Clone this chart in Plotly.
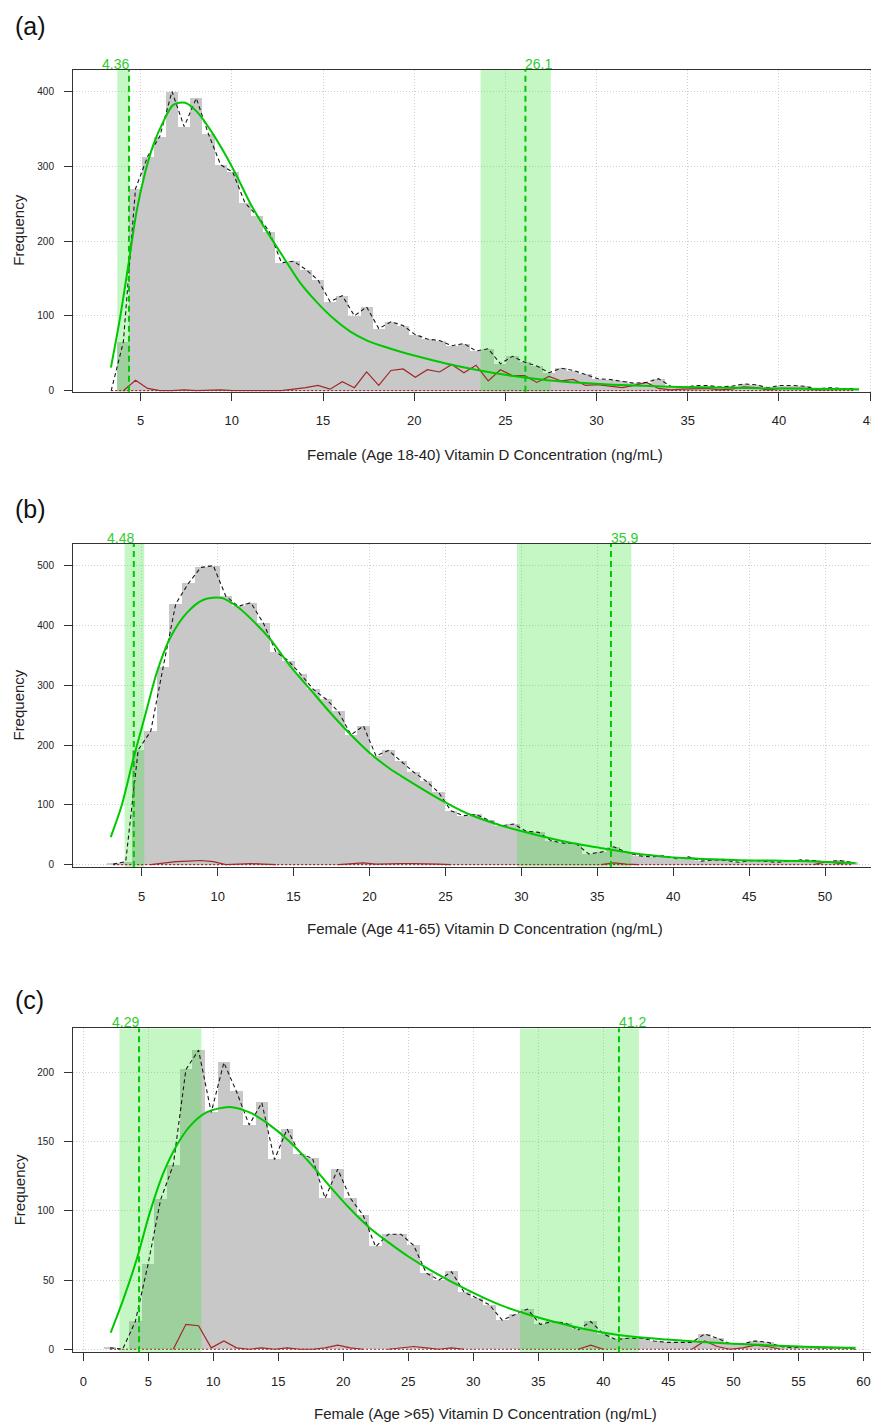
import plotly.graph_objects as go

# page geometry: the browser adds an 8px body margin, so the figure is shifted by OFF
W_PAGE, H_PAGE = 879, 1427
OFF = 8
W, H = W_PAGE - OFF, H_PAGE - OFF
FONT = "Liberation Sans, Arial, sans-serif"

# ---------------- data ----------------
# Panel (a) Female 18-40
a_bin_start = 3.05
a_bin_width = 0.667
a_counts = [0, 65, 270, 313, 340, 400, 353, 391, 343, 302, 292, 251, 234, 213, 171, 173,
            162, 148, 119, 127, 100, 112, 83, 92, 87, 75, 69, 67, 60, 63, 53, 56, 36, 46,
            38, 33, 24, 30, 27, 22, 16, 15, 13, 10, 11, 16, 6, 4, 7, 7, 5, 6, 9, 8, 4, 7,
            7, 6, 2, 4, 3, 3]
a_red = [0, 0, 14, 3, 0, 0, 1, 0, 1, 1, 0, 0, 1, 1, 0, 2, 4, 7, 2, 12, 4, 25, 7, 27, 29,
         18, 28, 25, 35, 24, 34, 13, 28, 20, 20, 11, 19, 13, 15, 7, 8, 6, 4, 7, 11, 3, 1,
         2, 2, 3, 1, 2, 5, 4, 1, 3, 3, 3, 1, 1, 2, 2]
a_fit_x = [3.37, 3.86, 4.32, 4.78, 5.24, 5.70, 6.25, 6.79, 7.44, 8.08, 8.81, 9.54, 10.27,
           11.0, 11.92, 12.84, 13.75, 14.67, 15.59, 16.5, 17.42, 18.33, 19.25, 20.0, 21.8,
           23.6, 25.45, 27.3, 29.1, 30.9, 34.5, 40.0, 44.4]
a_fit_y = [31, 96, 167, 240, 291, 329, 360, 382, 385, 373, 349, 320, 287, 251, 213, 178,
           144, 118, 96, 79, 67, 59, 52, 47, 36, 27, 19.5, 14, 10.5, 8, 5, 3, 2]
a_limits = [4.36, 26.1]
a_ci = [[3.72, 4.38], [23.64, 27.49]]
a_xlabel = "Female (Age 18-40) Vitamin D Concentration (ng/mL)"

# Panel (b) Female 41-65
b_bin_start = 2.71
b_bin_width = 0.824
b_counts = [1, 5, 192, 223, 331, 436, 470, 497, 500, 449, 432, 438, 404, 356, 341, 318,
            293, 277, 256, 217, 232, 182, 191, 173, 155, 140, 121, 90, 82, 84, 74, 65, 68,
            56, 54, 40, 36, 35, 18, 21, 30, 21, 15, 13, 15, 10, 13, 6, 8, 7, 4, 7, 6, 4,
            6, 8, 7, 4, 7, 4]
b_red = [0, 0, 0, 0, 3, 5, 6, 7, 5, 0, 1, 2, 1, 0, 0, 0, 0, 0, 0, 2, 3, 1, 2, 2, 2, 2, 1,
         0, 0, 0, 0, 0, 0, 0, 0, 0, 0, 0, 0, 0, 3, 1, 0, 0, 0, 0, 0, 0, 0, 0, 0, 0, 0, 0,
         0, 0, 0, 5, 2, 4]
b_fit_x = [2.96, 3.68, 4.45, 5.22, 5.99, 6.87, 7.97, 9.07, 10.27, 11.26, 12.36, 13.46,
           14.78, 16.1, 17.42, 18.74, 20.05, 21.37, 22.04, 25.0, 26.4, 28.6, 30.8, 33.0,
           35.2, 37.4, 39.6, 44.0, 48.4, 52.0]
b_fit_y = [46, 99, 177, 249, 321, 379, 421, 443, 446, 432, 407, 377, 332, 293, 254, 218,
           186, 160, 149, 104, 86, 66, 51, 38, 28, 19, 13, 8, 6, 3]
b_limits = [4.48, 35.9]
b_ci = [[3.87, 5.17], [29.71, 37.24]]
b_xlabel = "Female (Age 41-65) Vitamin D Concentration (ng/mL)"

# Panel (c) Female >65
c_bin_start = 1.57
c_bin_width = 0.973
c_counts = [1, 0, 20, 61, 108, 133, 202, 216, 171, 207, 186, 162, 178, 137, 159, 141, 138,
            109, 130, 109, 97, 74, 83, 83, 75, 55, 50, 56, 41, 37, 32, 21, 25, 29, 18, 20,
            19, 14, 20, 11, 7, 8, 8, 6, 5, 5, 5, 11, 8, 4, 4, 6, 5, 2, 1, 2, 1, 1, 1, 0]
c_red = [0, 0, 0, 0, 0, 0, 18, 17, 1, 6, 1, 0, 1, 0, 1, 0, 0, 1, 3, 1, 0, 0, 0, 1, 2, 1,
         0, 1, 0, 0, 0, 0, 0, 0, 0, 0, 0, 0, 3, 0, 0, 0, 0, 0, 0, 0, 0, 6, 2, 0, 1, 3, 2,
         0, 0, 0, 0, 0, 0, 0]
c_fit_x = [2.11, 3.08, 4.11, 5.13, 6.15, 7.17, 8.19, 9.47, 11.26, 12.79, 14.33, 15.86,
           17.39, 18.93, 20.46, 21.99, 23.5, 25.0, 26.9, 29.5, 32.05, 34.6, 37.2, 39.7,
           42.3, 44.9, 50.0, 55.1, 59.4]
c_fit_y = [12, 36, 65, 99, 127, 147, 161, 171, 175, 171, 162, 150, 135, 118, 102, 88, 77,
           67, 56, 43, 32, 24, 17.5, 12.5, 9, 7, 4, 2, 1]
c_limits = [4.29, 41.2]
c_ci = [[2.78, 9.09], [33.59, 42.74]]
c_xlabel = "Female (Age >65) Vitamin D Concentration (ng/mL)"

panel_tags = ["(a)", "(b)", "(c)"]
x_ticks = [list(range(5, 50, 5)), list(range(5, 55, 5)), list(range(0, 65, 5))]
y_ticks = [list(range(0, 500, 100)), list(range(0, 600, 100)), list(range(0, 250, 50))]

# ---------------- geometry (reference page pixels) ----------------
boxes = [(70, 393), (546, 870), (1032, 1357)]
x_ranges = [[1.29, 45.49], [0.476, 53.55], [-0.79, 61.2]]
y_ranges = [[-1.3, 429], [-3.8, 536], [-2.16, 231.7]]
tag_px = [26, 511, 1004]
xtitle_px = [456, 932, 1418]


def fx(px):
    return (px - OFF) / W


def fy(py):
    return 1 - (py - OFF) / H


GRAY_BAR = "rgb(200,200,200)"
GREEN = "rgb(0,200,0)"
GREEN_TXT = "rgb(45,205,45)"
BAND = "rgba(60,230,60,0.30)"
RED = "rgb(160,40,40)"
AXC = "#333333"
GRID = "#cfcfcf"

panels = [
    (a_bin_start, a_bin_width, a_counts, a_red, a_fit_x, a_fit_y, a_limits, a_ci, a_xlabel),
    (b_bin_start, b_bin_width, b_counts, b_red, b_fit_x, b_fit_y, b_limits, b_ci, b_xlabel),
    (c_bin_start, c_bin_width, c_counts, c_red, c_fit_x, c_fit_y, c_limits, c_ci, c_xlabel),
]


def seg_visible(vals):
    out = []
    n = len(vals)
    for i, v in enumerate(vals):
        keep = v > 0 or (i > 0 and vals[i - 1] > 0) or (i < n - 1 and vals[i + 1] > 0)
        out.append(v if keep else None)
    return out


fig = go.Figure()
annotations = []
shapes = []
layout_axes = {}

for p, (start, width, counts, red, fitx, fity, limits, ci, xlabel) in enumerate(panels):
    sfx = "" if p == 0 else str(p + 1)
    xa, ya = "x" + sfx, "y" + sfx
    centers = [start + width * (i + 0.5) for i in range(len(counts))]

    fig.add_trace(go.Bar(x=centers, y=counts, width=width,
                         marker=dict(color=GRAY_BAR, line=dict(width=0)),
                         xaxis=xa, yaxis=ya, showlegend=False, hoverinfo="skip"))
    ylo, yhi = y_ranges[p][0] - 50, y_ranges[p][1] + 50
    for lo, hi in ci:
        fig.add_trace(go.Scatter(x=[lo, hi, hi, lo, lo], y=[ylo, ylo, yhi, yhi, ylo], fill="toself",
                                 fillcolor=BAND, mode="none", xaxis=xa, yaxis=ya,
                                 showlegend=False, hoverinfo="skip"))
    fig.add_trace(go.Scatter(x=[centers[0], centers[-1]], y=[0, 0], mode="lines",
                             line=dict(color=RED, width=1.2, dash="2px,2px"),
                             xaxis=xa, yaxis=ya, showlegend=False, hoverinfo="skip"))
    fig.add_trace(go.Scatter(x=centers, y=seg_visible(red), mode="lines", connectgaps=False,
                             line=dict(color=RED, width=1.2),
                             xaxis=xa, yaxis=ya, showlegend=False, hoverinfo="skip"))
    fig.add_trace(go.Scatter(x=centers, y=counts, mode="lines",
                             line=dict(color="#1a1a1a", width=1.1, dash="4px,3px"),
                             xaxis=xa, yaxis=ya, showlegend=False, hoverinfo="skip"))
    fig.add_trace(go.Scatter(x=fitx, y=fity, mode="lines",
                             line=dict(color=GREEN, width=2, shape="spline", smoothing=0.8),
                             xaxis=xa, yaxis=ya, showlegend=False, hoverinfo="skip"))

    for j, lim in enumerate(limits):
        shapes.append(dict(type="line", xref=xa, yref=ya + " domain", x0=lim, x1=lim, y0=0, y1=1,
                           line=dict(color=GREEN, width=2, dash="6px,4px"), layer="above"))
        annotations.append(dict(text=f"{lim:g}", xref=xa, yref=ya + " domain", x=lim, y=1.0,
                                xanchor="right" if j == 0 else "left", yanchor="bottom",
                                showarrow=False, font=dict(family=FONT, size=14, color=GREEN_TXT),
                                xshift=1 if j == 0 else -1, yshift=-3, borderpad=0))

    top, bot = boxes[p]
    layout_axes["xaxis" + sfx] = dict(
        domain=[fx(73), 1.0], range=x_ranges[p], anchor=ya, tickvals=x_ticks[p],
        showline=True, linecolor=AXC, linewidth=1, mirror=True,
        ticks="outside", ticklen=8, tickcolor=AXC, tickwidth=1,
        showgrid=True, gridcolor=GRID, griddash="1px,2px", gridwidth=1, zeroline=False,
        tickfont=dict(family=FONT, size=13, color="#222222"), ticklabelstandoff=9,
    )
    layout_axes["yaxis" + sfx] = dict(
        domain=[fy(bot), fy(top)], range=y_ranges[p], anchor=xa, tickvals=y_ticks[p],
        showline=True, linecolor=AXC, linewidth=1, mirror=False,
        ticks="outside", ticklen=8, tickcolor=AXC, tickwidth=1,
        showgrid=True, gridcolor=GRID, griddash="1px,2px", gridwidth=1, zeroline=False,
        tickfont=dict(family=FONT, size=10, color="#222222"), ticklabelstandoff=8,
    )

    annotations.append(dict(text=panel_tags[p], xref="paper", yref="paper", x=fx(13), y=fy(tag_px[p]),
                            xanchor="left", yanchor="middle", showarrow=False,
                            font=dict(family=FONT, size=25, color="#111111")))
    annotations.append(dict(text=xlabel, xref="paper", yref="paper", x=fx(485), y=fy(xtitle_px[p]),
                            xanchor="center", yanchor="middle", showarrow=False,
                            font=dict(family=FONT, size=15, color="#222222")))
    annotations.append(dict(text="Frequency", xref="paper", yref="paper", x=fx(19),
                            y=fy((top + bot) / 2), xanchor="center", yanchor="middle",
                            textangle=-90, showarrow=False, borderpad=0,
                            font=dict(family=FONT, size=15, color="#222222")))

fig.update_layout(
    width=W, height=H, autosize=False,
    margin=dict(l=0, r=0, t=0, b=0),
    paper_bgcolor="white", plot_bgcolor="white",
    bargap=0, barmode="overlay",
    showlegend=False,
    annotations=annotations, shapes=shapes,
    font=dict(family=FONT),
    **layout_axes,
)

fig.write_html("out.html")
